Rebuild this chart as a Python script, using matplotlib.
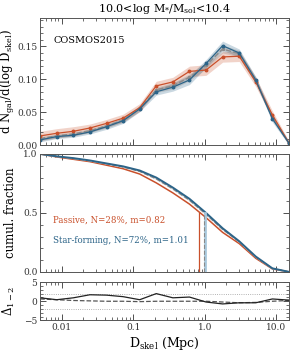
import numpy as np
import matplotlib
matplotlib.use("Agg")
import matplotlib.pyplot as plt
from matplotlib.ticker import MultipleLocator, FixedLocator, NullFormatter

plt.rcParams['font.family'] = ['DejaVu Serif']
plt.rcParams['mathtext.fontset'] = 'dejavuserif'

# ---- data ----
d_min, d_max = 0.005, 15.0
n_bins = 16
dskel = np.logspace(np.log10(d_min), np.log10(d_max), n_bins)

pdf_passive = [0.014, 0.018, 0.021, 0.026, 0.033, 0.041, 0.057, 0.090, 0.096, 0.112, 0.114, 0.134, 0.135, 0.096, 0.046, 0.003]
err_passive = [0.007, 0.007, 0.007, 0.006, 0.006, 0.006, 0.006, 0.007, 0.007, 0.008, 0.008, 0.008, 0.008, 0.007, 0.006, 0.003]
pdf_sf = [0.008, 0.013, 0.015, 0.020, 0.028, 0.037, 0.055, 0.081, 0.088, 0.099, 0.124, 0.151, 0.140, 0.099, 0.040, 0.003]
err_sf = [0.003, 0.003, 0.003, 0.003, 0.004, 0.004, 0.004, 0.005, 0.006, 0.007, 0.006, 0.007, 0.006, 0.005, 0.005, 0.003]
pdf_all = [0.010, 0.014, 0.017, 0.022, 0.029, 0.038, 0.056, 0.084, 0.090, 0.103, 0.121, 0.146, 0.139, 0.098, 0.042, 0.003]
err_all = [0.003, 0.003, 0.003, 0.003, 0.003, 0.003, 0.004, 0.004, 0.005, 0.005, 0.005, 0.006, 0.005, 0.005, 0.004, 0.002]

cum_passive = [1.0, 0.975, 0.955, 0.935, 0.905, 0.875, 0.83, 0.755, 0.67, 0.575, 0.46, 0.335, 0.24, 0.115, 0.025, 0.0]
cum_sf = [1.0, 0.98, 0.965, 0.945, 0.92, 0.895, 0.86, 0.80, 0.715, 0.62, 0.50, 0.37, 0.26, 0.13, 0.03, 0.0]
cum_all = [1.0, 0.979, 0.962, 0.942, 0.916, 0.889, 0.852, 0.788, 0.703, 0.607, 0.488, 0.36, 0.255, 0.126, 0.028, 0.0]

median_passive = 0.82
median_sf = 1.01
median_all = 0.96
median_cum = 0.5

delta_pdf = [0.9, 0.4, 0.9, 1.7, 1.6, 1.2, 0.4, 2.0, 0.9, 1.1, -0.2, -0.7, -0.4, -0.4, 0.6, 0.3]
delta_cum = [0.6, 0.4, 0.2, 0.1, 0.0, 0.0, -0.1, 0.0, 0.0, 0.0, 0.0, -0.2, -0.4, -0.3, 0.0, 0.2]

title = r"10.0<log M$_{*}$/M$_{\rm sol}$<10.4"
label_passive = "Passive, N=28%, m=0.82"
label_sf = "Star-forming, N=72%, m=1.01"

# ---- style ----
c_red = '#c9502b'
c_blue = '#2c6488'
c_lblue = '#a9c9dd'
c_gray = '#8a8a8a'

fig = plt.figure(figsize=(2.91, 3.54), dpi=100)
L, W = 0.138, 0.855
ax1 = fig.add_axes([L, 0.590, W, 0.359])
ax2 = fig.add_axes([L, 0.232, W, 0.333])
ax3 = fig.add_axes([L, 0.095, W, 0.108])

for ax in (ax1, ax2, ax3):
    ax.set_xscale('log')
    ax.set_xlim(d_min, d_max)
    ax.tick_params(which='both', direction='in', top=True, right=True, labelsize=6.5, colors='#333333', pad=2)
    ax.tick_params(which='major', length=4, width=0.6)
    ax.tick_params(which='minor', length=2, width=0.5)
    for s in ax.spines.values():
        s.set_color('#555555')
        s.set_linewidth(0.7)

# top panel
ax1.fill_between(dskel, np.array(pdf_passive) - err_passive, np.array(pdf_passive) + err_passive,
                 color=c_red, alpha=0.25, lw=0)
ax1.fill_between(dskel, np.array(pdf_sf) - err_sf, np.array(pdf_sf) + err_sf,
                 color=c_blue, alpha=0.25, lw=0)
ax1.fill_between(dskel, np.array(pdf_all) - err_all, np.array(pdf_all) + err_all,
                 color='#777777', alpha=0.25, lw=0)
ax1.plot(dskel, pdf_all, color=c_gray, ls='--', lw=1.0, marker='o', ms=1.5)
ax1.plot(dskel, pdf_passive, color=c_red, lw=0.9, marker='o', ms=1.8)
ax1.plot(dskel, pdf_sf, color=c_blue, lw=0.9, marker='o', ms=1.8)
ax1.set_ylim(0, 0.193)
ax1.yaxis.set_major_locator(FixedLocator([0.0, 0.05, 0.10, 0.15]))
ax1.set_yticklabels(['0.00', '0.05', '0.10', '0.15'])
ax1.yaxis.set_minor_locator(MultipleLocator(0.01))
ax1.xaxis.set_major_formatter(NullFormatter())
ax1.xaxis.set_minor_formatter(NullFormatter())
ax1.set_ylabel(r"d N$_{\rm gal}$/d(log D$_{\rm skel}$)", fontsize=8.5)
ax1.yaxis.set_label_coords(-0.092, 0.5)
ax1.set_title(title, fontsize=8, pad=4)
ax1.text(0.052, 0.82, "COSMOS2015", transform=ax1.transAxes, fontsize=7, va='center')

# middle panel
ax2.plot(dskel, cum_passive, color=c_red, lw=1.1)
ax2.plot(dskel, cum_all, color='#dddddd', lw=1.0, ls='-')
ax2.plot(dskel, cum_all, color=c_gray, lw=0.9, ls='--')
ax2.plot(dskel, cum_sf, color=c_blue, lw=1.4)
ax2.plot([median_sf, median_sf], [0, median_cum], color=c_lblue, lw=2.0)
ax2.plot([median_passive, median_passive], [0, median_cum], color=c_red, lw=0.9)
ax2.plot([median_all, median_all], [0, median_cum], color=c_gray, lw=0.8, ls='--')
ax2.set_ylim(0, 1.0)
ax2.yaxis.set_major_locator(FixedLocator([0.0, 0.5, 1.0]))
ax2.set_yticklabels(['0.0', '0.5', '1.0'])
ax2.yaxis.set_minor_locator(MultipleLocator(0.1))
ax2.xaxis.set_major_formatter(NullFormatter())
ax2.xaxis.set_minor_formatter(NullFormatter())
ax2.set_ylabel("cumul. fraction", fontsize=8.5)
ax2.yaxis.set_label_coords(-0.092, 0.5)
ax2.text(0.052, 0.435, label_passive, transform=ax2.transAxes, fontsize=6.2, color=c_red, va='center')
ax2.text(0.052, 0.27, label_sf, transform=ax2.transAxes, fontsize=6.2, color=c_blue, va='center')

# bottom panel
ax3.axhline(2, color='#999999', lw=0.6, ls=':')
ax3.axhline(-2, color='#999999', lw=0.6, ls=':')
ax3.plot(dskel, delta_cum, color='#555555', lw=0.9, ls='--')
ax3.plot(dskel, delta_pdf, color='#222222', lw=0.9)
ax3.set_ylim(-5, 5)
ax3.yaxis.set_major_locator(FixedLocator([-5, 0, 5]))
ax3.yaxis.set_minor_locator(MultipleLocator(1))
ax3.xaxis.set_major_locator(FixedLocator([0.01, 0.1, 1.0, 10.0]))
ax3.set_xticklabels(['0.01', '0.1', '1.0', '10.0'])
ax3.xaxis.set_minor_formatter(NullFormatter())
ax3.set_ylabel(r"$\Delta_{1-2}$", fontsize=8.5)
ax3.yaxis.set_label_coords(-0.092, 0.5)
ax3.set_xlabel(r"D$_{\rm skel}$ (Mpc)", fontsize=9, labelpad=2)

fig.savefig("out.png", dpi=100)
